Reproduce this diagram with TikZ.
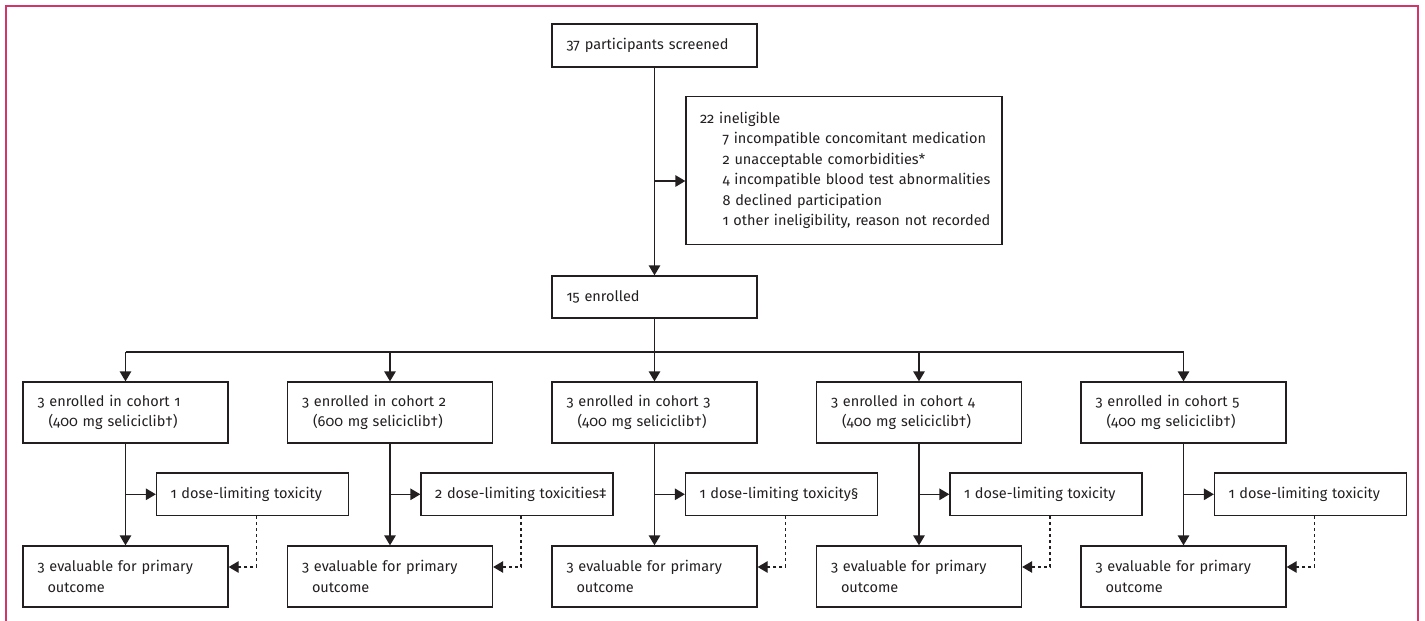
\documentclass[tikz,border=0pt]{standalone}
\usepackage{fontspec}
\setmainfont{Fira Sans}[Numbers=OldStyle]
\usetikzlibrary{arrows.meta,calc}
\definecolor{framecol}{HTML}{D6336A}
\definecolor{ink}{HTML}{231F20}
\begin{document}
\begin{tikzpicture}[x=1pt,y=-1pt,
  every node/.style={font=\fontsize{14.5}{20.5}\selectfont, text=ink},
  box/.style={draw=ink, line width=1.3pt, inner xsep=0pt, inner ysep=0pt, align=left, anchor=center},
  mainbox/.style={box, minimum width=205pt, text width=176pt},
  arr/.style={draw=ink, line width=1.3pt, -{Triangle[length=10pt,width=11.5pt]}},
  ln/.style={draw=ink, line width=1.3pt},
  dsh/.style={arr, dash pattern=on 3pt off 3pt}]
\useasboundingbox (0,0) rectangle (1425,621);
\draw[framecol, line width=1.8pt] (6,625) -- (6,6) -- (1418,6) -- (1418,625);

\node[mainbox, minimum height=43pt] (screen) at (654.5,45.5) {37 participants screened};
\node[box, minimum width=316pt, minimum height=148pt, text width=288pt] (inel) at (844,170.5)
  {22 ineligible\\
   \mbox{\hspace*{22.5pt}7 incompatible concomitant medication}\\
   \mbox{\hspace*{22.5pt}2 unacceptable comorbidities*}\\
   \mbox{\hspace*{22.5pt}4 incompatible blood test abnormalities}\\
   \mbox{\hspace*{22.5pt}8 declined participation}\\
   \mbox{\hspace*{22.5pt}1 other ineligibility, reason not recorded}};
\node[mainbox, minimum height=42pt] (enrolled) at (654.5,297) {15 enrolled};

\coordinate (j0) at (654.5,181);
\draw[arr] (screen.south) -- (enrolled.north);
\draw[arr] (j0) -- (j0 -| inel.west);

\foreach \i/\cx/\dose/\tox in {1/125.5/400/{1 dose-limiting toxicity},
                               2/390/600/{2 dose-limiting toxicities‡},
                               3/654.5/400/{1 dose-limiting toxicity§},
                               4/919/400/{1 dose-limiting toxicity},
                               5/1183.5/400/{1 dose-limiting toxicity}}{
  \node[mainbox, minimum height=61pt] (c\i) at (\cx,412.5)
    {\mbox{3 enrolled in cohort \i}\\\mbox{\hspace*{11pt}(\dose\ mg seliciclib†)}};
  \node[box, minimum width=192pt, text width=164pt, minimum height=42.5pt] (t\i) at (\cx+127,494.3) {\mbox{\tox}};
  \node[mainbox, minimum height=61pt] (e\i) at (\cx,576.5)
    {\mbox{3 evaluable for primary}\\\hspace*{10pt}outcome};
  \draw[arr] (c\i.south) -- (e\i.north);
  \draw[arr] (c\i.south |- t\i.west) -- (t\i.west);
  \draw[dsh] ([xshift=4pt]t\i.south) |- ([yshift=9.5pt]e\i.east);
}

\coordinate (br) at (654.5,352);
\draw[ln] (enrolled.south) -- (br);
\draw[ln] (br -| c1.north) -- (br -| c5.north);
\foreach \i in {1,...,5}{
  \draw[arr] (br -| c\i.north) -- (c\i.north);
}
\end{tikzpicture}
\end{document}
